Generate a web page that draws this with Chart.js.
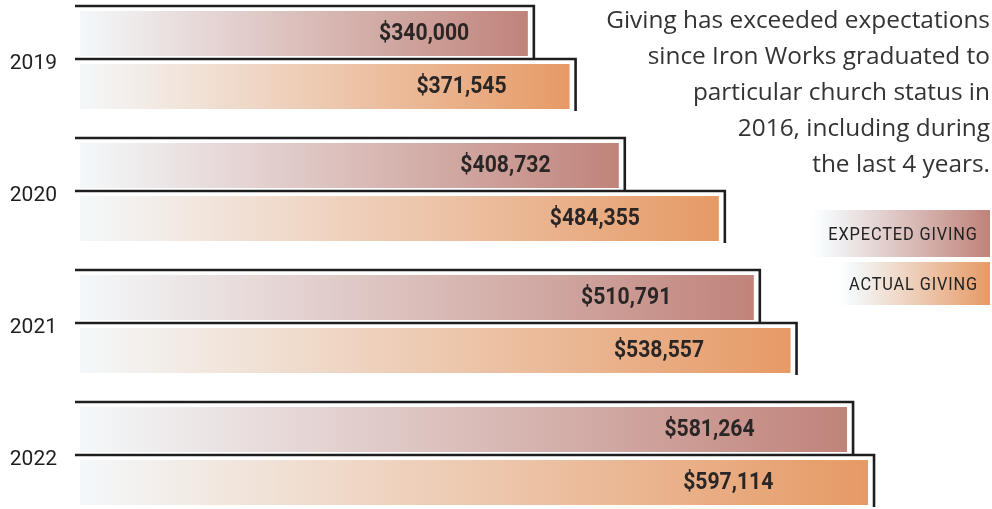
<!DOCTYPE html>
<html>
<head>
<meta charset="utf-8">
<script src="https://cdn.jsdelivr.net/npm/chart.js@4"></script>
<style>
  html, body { margin: 0; padding: 0; background: #fff; overflow: hidden; }
  body { width: 992px; height: 509px; position: relative; }
  #grafica { position: absolute; left: 0; top: -6px; }
  #note {
    position: absolute; right: 2px; top: 1px; text-align: right;
    font-family: "Open Sans", sans-serif; font-size: 24.4px; line-height: 36px;
    color: #333;
  }
  .key { position: absolute; right: 2px; display: flex; align-items: center; justify-content: flex-end; }
  .key span {
    font-family: Roboto, sans-serif; font-size: 19px; letter-spacing: 1px; color: #222;
    transform: scaleX(0.86); transform-origin: right center; margin-right: 12px; white-space: nowrap;
  }
</style>
</head>
<body>
<canvas id="grafica" width="992" height="528"></canvas>
<div id="note">Giving has exceeded expectations<br>since Iron Works graduated to<br>particular church status in<br>2016, including during<br>the last 4 years.</div>
<div id="leyenda"></div>
<script>
const years = ['2019', '2020', '2021', '2022'];
const expectedGiving = [340000, 408732, 510791, 581264];
const actualGiving = [371545, 484355, 538557, 597114];
const seriesNames = ['EXPECTED GIVING', 'ACTUAL GIVING'];
const endColors = ['#c0837a', '#e69a66'];
const startColor = '#f4f8fa';

// legend boxes, drawn as html
var leyenda = document.getElementById('leyenda');
var keyPos = [{ top: 210, width: 178, height: 47 }, { top: 262, width: 150, height: 43 }];
seriesNames.forEach(function (name, i) {
  var d = document.createElement('div');
  d.className = 'key';
  d.style.top = keyPos[i].top + 'px';
  d.style.width = keyPos[i].width + 'px';
  d.style.height = keyPos[i].height + 'px';
  d.style.background = 'linear-gradient(to right, rgba(255,255,255,0), ' + startColor + ' 8%, ' + endColors[i] + ')';
  d.innerHTML = '<span>' + name + '</span>';
  leyenda.appendChild(d);
});

function money(v) {
  return '$' + v.toLocaleString('en-US');
}

function barGradient(ctx, i) {
  var chart = ctx.chart;
  if (!chart.chartArea || ctx.type !== 'data') return endColors[i];
  var xs = chart.scales.x;
  var x0 = xs.getPixelForValue(0);
  var x1 = xs.getPixelForValue(ctx.raw);
  var g = chart.ctx.createLinearGradient(x0, 0, x1, 0);
  g.addColorStop(0, startColor);
  g.addColorStop(1, endColors[i]);
  return g;
}

// black frame behind each bar (top and right edges only)
var marcos = {
  id: 'marcos',
  beforeDatasetsDraw: function (chart) {
    var c = chart.ctx;
    c.save();
    c.strokeStyle = '#1e1e1e';
    c.lineWidth = 2.6;
    chart.data.datasets.forEach(function (ds, di) {
      chart.getDatasetMeta(di).data.forEach(function (bar) {
        var p = bar.getProps(['x', 'y', 'base', 'height'], true);
        var top = p.y - p.height / 2 - 4;
        var bottom = p.y + p.height / 2 + 1;
        c.beginPath();
        c.moveTo(p.base - 4, top);
        c.lineTo(p.x + 5, top);
        c.lineTo(p.x + 5, bottom);
        c.stroke();
      });
    });
    c.restore();
  }
};

// value labels inside the bars
var etiquetas = {
  id: 'etiquetas',
  afterDatasetsDraw: function (chart) {
    var c = chart.ctx;
    c.save();
    c.fillStyle = '#2b2626';
    c.font = 'bold 23px Roboto';
    c.textAlign = 'center';
    c.textBaseline = 'middle';
    chart.data.datasets.forEach(function (ds, di) {
      chart.getDatasetMeta(di).data.forEach(function (bar, i) {
        var p = bar.getProps(['x', 'y', 'base'], true);
        var cx = p.base + 0.894 * (p.x - p.base) - 57;
        c.save();
        c.translate(cx, p.y + 1);
        c.scale(0.92, 1);
        c.fillText(money(ds.data[i]), 0, 0);
        c.restore();
      });
    });
    c.restore();
  }
};

var data_1 = {
  labels: years,
  datasets: [
    { label: seriesNames[0], data: expectedGiving, backgroundColor: function (ctx) { return barGradient(ctx, 0); } },
    { label: seriesNames[1], data: actualGiving, backgroundColor: function (ctx) { return barGradient(ctx, 1); } }
  ]
};

var config_1 = {
  type: 'bar',
  data: data_1,
  plugins: [marcos, etiquetas],
  options: {
    indexAxis: 'y',
    responsive: false,
    animation: false,
    layout: { padding: { top: 0, bottom: 0, left: 0, right: 53 } },
    datasets: {
      bar: {
        categoryPercentage: 0.803,
        barPercentage: 0.887,
        borderColor: 'rgba(255,255,255,0.6)',
        borderWidth: 1,
        borderSkipped: false
      }
    },
    scales: {
      x: { display: false, min: 0, max: 650000 },
      y: {
        afterFit: function (scale) {
          scale.width = 79;
          scale.paddingTop = 0;
          scale.paddingBottom = 0;
        },
        grid: { display: false, drawTicks: false },
        border: { display: false },
        ticks: {
          padding: 22,
          labelOffset: 4,
          color: '#1f1f1f',
          font: { family: 'Roboto', size: 21 }
        }
      }
    },
    plugins: {
      legend: { display: false },
      tooltip: { enabled: false }
    }
  }
};

var myChart_1 = new Chart(document.getElementById('grafica'), config_1);
</script>
</body>
</html>
